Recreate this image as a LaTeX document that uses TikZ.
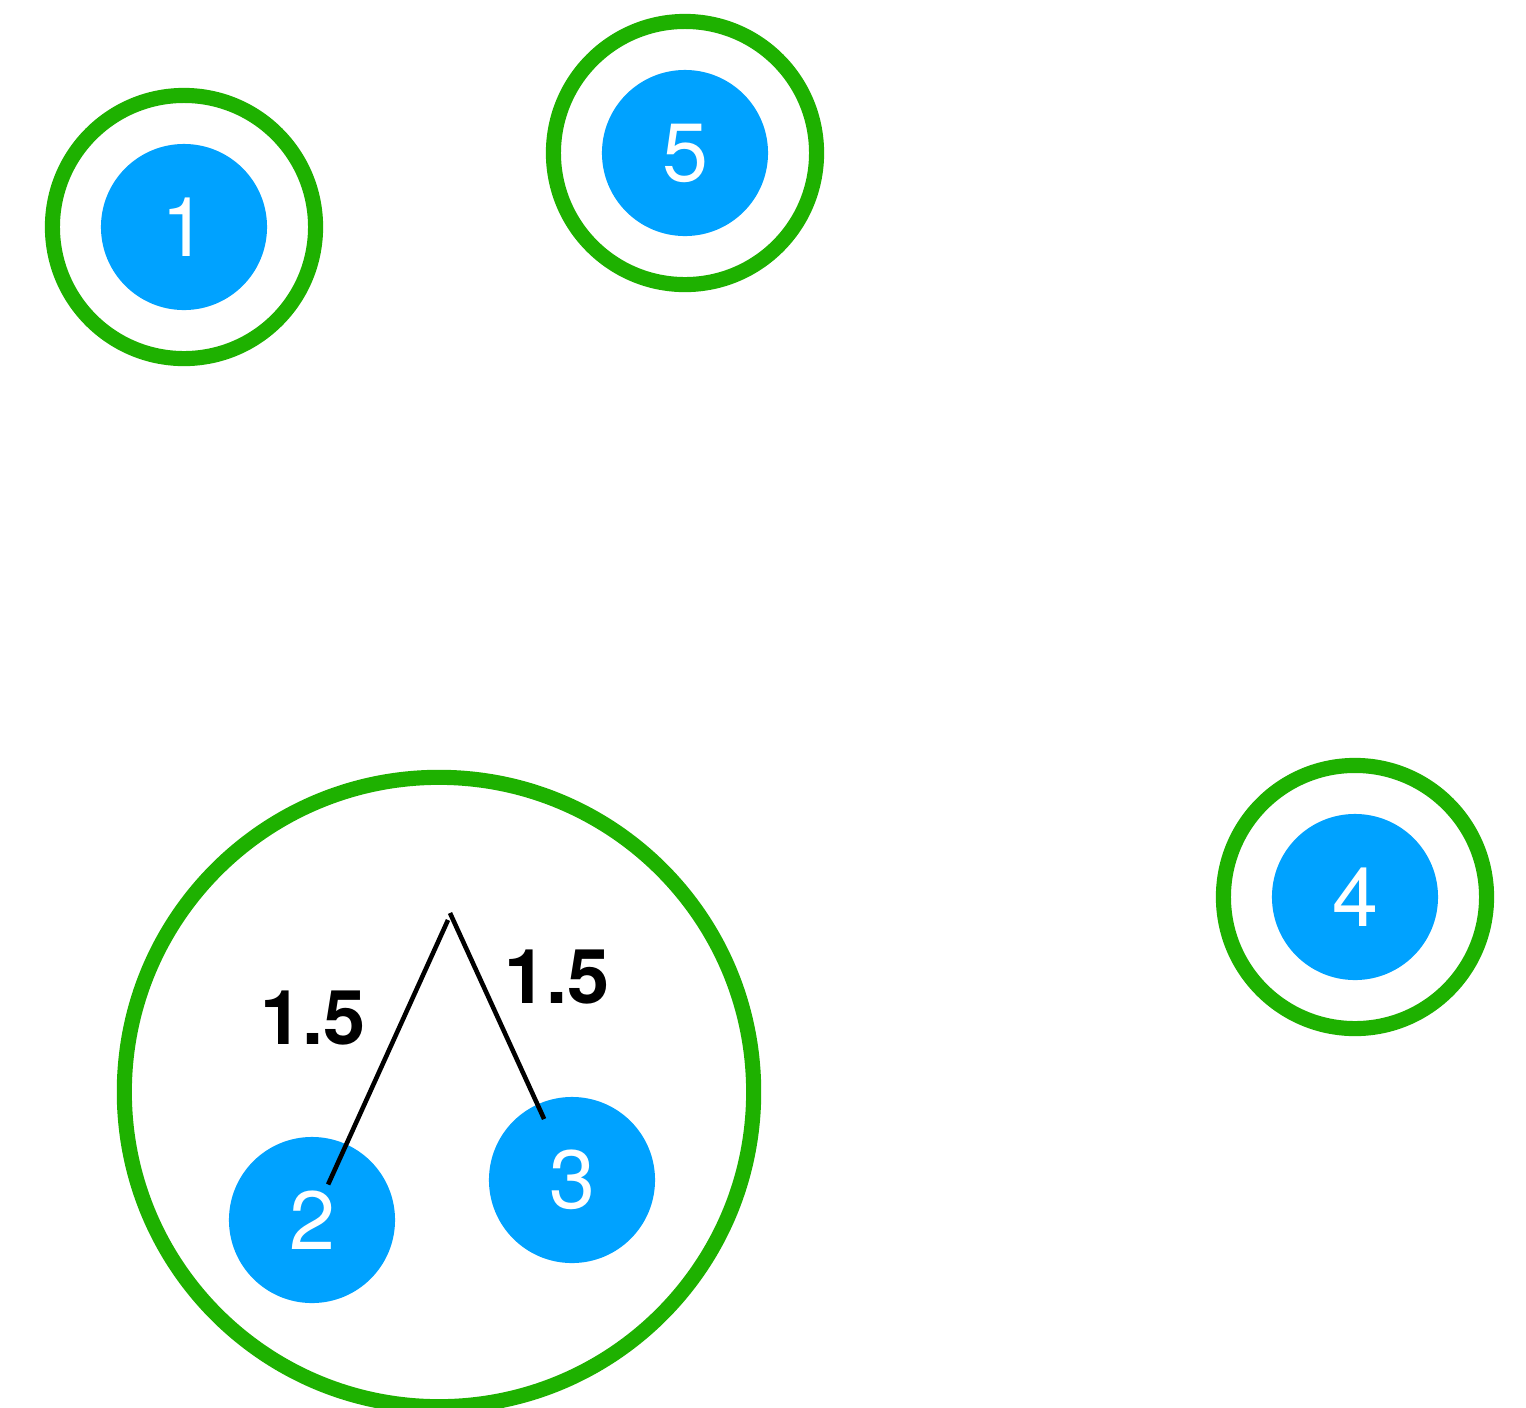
\documentclass[tikz,border=0pt]{standalone}
\usepackage{fontspec}
\setmainfont{TeX Gyre Heros}
\usepackage{xcolor}
\usepackage{tikz}

\definecolor{nodeBlue}{RGB}{0,162,255}
\definecolor{ringGreen}{RGB}{30,177,0}

\begin{document}
\begin{tikzpicture}[
        x=0.01cm, y=-0.01cm,
        vertex/.style={circle, fill=nodeBlue, draw=none, inner sep=0pt, minimum size=1.66cm, text=white, font=\fontsize{23.5}{27}\selectfont},
        ring/.style={circle, draw=ringGreen, line width=4.3pt, inner sep=0pt, minimum size=2.63cm},
        cluster/.style={circle, draw=ringGreen, line width=4.3pt, inner sep=0pt, minimum size=6.29cm},
        edge/.style={draw=black, line width=1.3pt},
        weight/.style={font=\fontsize{21.5}{25}\selectfont\bfseries, text=black}
    ]
        \useasboundingbox (0,0) rectangle (1526,1408);

        % ========== SINGLE CLUSTERS ==========
        \node[vertex] (v1) at (184,227) {1};
        \node[ring] (ring1) at (184,227) {};
        \node[vertex] (v5) at (685,153) {5};
        \node[ring] (ring5) at (685,153) {};
        \node[vertex] (v4) at (1355,897) {4};
        \node[ring] (ring4) at (1355,897) {};

        % ========== MERGED CLUSTER (2 and 3) ==========
        \node[cluster] (ring23) at (439,1092) {};
        \node[vertex] (v2) at (312,1220) {2};
        \node[vertex] (v3) at (572,1180) {3};

        % Merge point - lines from the nodes up to it
        \coordinate (apexL) at (448,920);
        \coordinate (apexR) at (450,913);
        \draw[edge, shorten <=0.39cm] (v2.center) -- (apexL);
        \draw[edge, shorten <=0.67cm] (v3.center) -- (apexR);

        % ========== DISTANCE LABELS ==========
        \node[weight] (w2) at (313,1018) {1.5};
        \node[weight] (w3) at (557,977) {1.5};

    \end{tikzpicture}
\end{document}
